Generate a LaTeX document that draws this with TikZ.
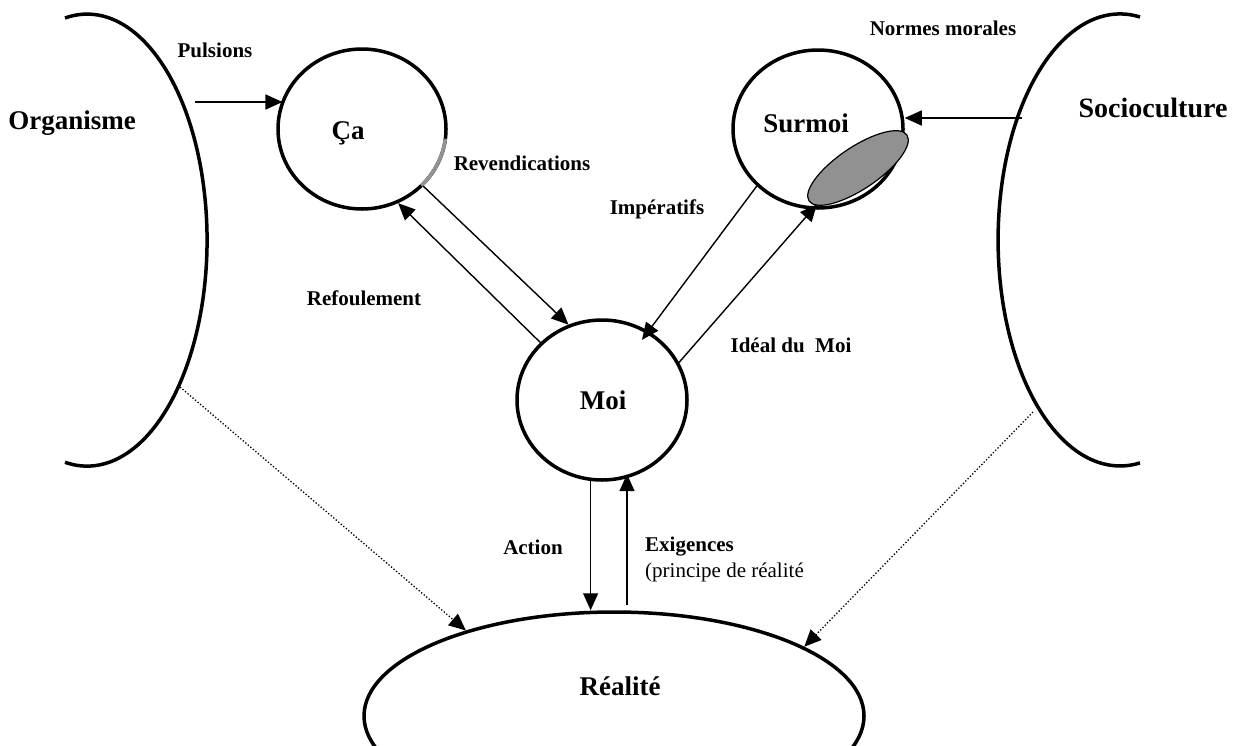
\documentclass[tikz,border=0pt]{standalone}
\usepackage{fontspec}
\setmainfont{Liberation Serif}
\usetikzlibrary{shapes.geometric,arrows.meta}
\begin{document}
\begin{tikzpicture}[x=1pt,y=-1pt,
  bigline/.style={line width=3.5pt},
  psy/.style={draw, ellipse, line width=3.5pt, inner sep=0pt},
  arr/.style={line width=1.4pt, -{Triangle[length=17pt,width=15pt]}},
  dotarr/.style={line width=1.3pt, dash pattern=on 1.3pt off 2pt, -{Triangle[length=17pt,width=15pt]}},
  small/.style={font=\fontsize{21}{25}\selectfont\bfseries, inner sep=0pt},
  plain/.style={font=\fontsize{21}{25}\selectfont, inner sep=0pt},
  big/.style={font=\fontsize{27}{32}\selectfont\bfseries, inner sep=0pt},
]
\useasboundingbox (0,0) rectangle (1246,745);
\clip (0,0) rectangle (1246,745);

% side brackets (Organisme, Socioculture)
\draw[bigline] (65,18) arc[start angle=-100.6, end angle=100.6, x radius=120, y radius=226];
\draw[bigline] (1140,17) arc[start angle=-80.6, end angle=-279.4, x radius=122, y radius=226];

% instances
\node[psy, minimum width=168pt, minimum height=160pt] (ca) at (362,129) {};
\node[psy, minimum width=170pt, minimum height=158pt] (sur) at (818,129) {};
\node[psy, minimum width=170pt, minimum height=160pt] (moi) at (602,400) {};
\node[psy, minimum width=500pt, minimum height=208pt] (real) at (614,716) {};

% grey arc on Ça
\draw[line width=3.5pt, color=gray!85] ([shift={(7:84 and 80)}]ca.center) arc[start angle=7, end angle=45, x radius=84, y radius=80];

% grey ellipse on Surmoi
\filldraw[fill={rgb,255:red,145;green,145;blue,145}, draw=black, line width=1.2pt, rotate around={34:(858,168)}] (858,168) ellipse [x radius=59, y radius=21];

% labels
\node[big] (lorg) at (72,123) {Organisme};
\node[big, font=\fontsize{28}{33}\selectfont\bfseries] (lsoc) at (1153,108) {Socioculture};
\node[big] (lca) at (348,133) {Ça};
\node[big] (lsur) at (806,123) {Surmoi};
\node[big] (lmoi) at (603,400) {Moi};
\node[big] (lreal) at (620,686) {Réalité};
\node[small] (lpul) at (215,50) {Pulsions};
\node[small] (lnor) at (943,28) {Normes morales};
\node[small] (lrev) at (522,163) {Revendications};
\node[small] (limp) at (657,209) {Impératifs};
\node[small] (lref) at (364,298) {Refoulement};
\node[small] (lide) at (791,345) {Idéal du \ Moi};
\node[small] (lact) at (533,547) {Action};
\node[small, anchor=west] (lexi) at (645,547) {Exigences};
\node[plain, anchor=west] (lpri) at (645,572) {(principe de réalité};

% connectors
\coordinate (pulsA) at (195,102);
\draw[arr] (pulsA) -- (pulsA -| ca.159);
\coordinate (socA) at (1022,118);
\draw[arr] (socA) -- (socA -| sur.east);
\draw[arr] (ca.-43.5) -- (moi.114);
\draw[arr] (moi.137) -- (ca.-64);
\draw[arr, shorten >=-11pt] (sur.223.6) -- (moi.56);
\draw[arr, shorten >=-7pt] (moi.26) -- (sur.-94);
\draw[arr] (moi.-98) -- (moi.-98 |- real.north);
\coordinate (exA) at (627,605);
\draw[arr, shorten >=-4pt] (exA) -- (exA |- moi.-72);
\coordinate (orgA) at (180,387);
\draw[dotarr] (orgA) -- (real.150.3);
\coordinate (socB) at (1033,412);
\draw[dotarr] (socB) -- (real.20.4);
\end{tikzpicture}
\end{document}
